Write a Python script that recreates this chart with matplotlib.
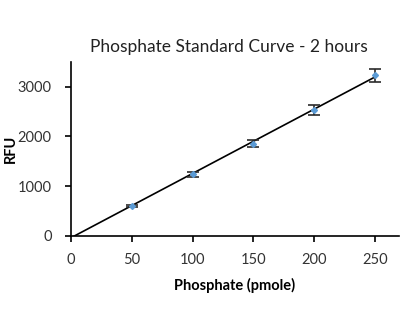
import numpy as np
import matplotlib
matplotlib.use("Agg")
import matplotlib.pyplot as plt

plt.rcParams['font.family'] = ['Lato', 'DejaVu Sans']

# Phosphate standard curve data (2 hour read)
phosphate = [0, 50, 100, 150, 200, 250]
rfu = [0, 600, 1240, 1853, 2540, 3233]
rfu_err = [0, 25, 50, 75, 100, 130]

fig = plt.figure(figsize=(4.14, 3.25), dpi=100)
ax = fig.add_axes([0.1715, 0.274, 0.7925, 0.536])

# Linear trendline fitted to the standards
slope, intercept = np.polyfit(phosphate, rfu, 1)
xfit = np.array([0, 250])
ax.plot(xfit, slope * xfit + intercept, color='black', lw=1.2, zorder=2)

ax.errorbar(phosphate[1:], rfu[1:], yerr=rfu_err[1:], fmt='D', ms=3,
            color='#5b9bd5', mec='#5b9bd5', ecolor='#2b2b2b', elinewidth=1.2,
            capsize=4.5, capthick=1.2, zorder=3)

ax.set_xlim(0, 270)
ax.set_ylim(0, 3500)
ax.set_xticks([0, 50, 100, 150, 200, 250])
ax.set_yticks([0, 1000, 2000, 3000])

for side in ['top', 'right']:
    ax.spines[side].set_visible(False)
for side in ['left', 'bottom']:
    ax.spines[side].set_linewidth(1.2)
    ax.spines[side].set_color('black')

ax.tick_params(axis='both', direction='out', length=4, width=1.2,
               labelsize=10.5, colors='black', labelcolor='#333333')
ax.tick_params(axis='y', pad=10)
ax.tick_params(axis='x', pad=8)

ax.set_title('Phosphate Standard Curve - 2 hours', fontsize=12.5,
             color='#222222', pad=7, x=0.48)
ax.set_xlabel('Phosphate (pmole)', fontsize=10.5, fontweight='bold')
ax.set_ylabel('RFU', fontsize=10.5, fontweight='bold')
ax.xaxis.set_label_coords(0.5, -0.243)
ax.yaxis.set_label_coords(-0.162, 0.5)

fig.savefig('out.png', dpi=100)
